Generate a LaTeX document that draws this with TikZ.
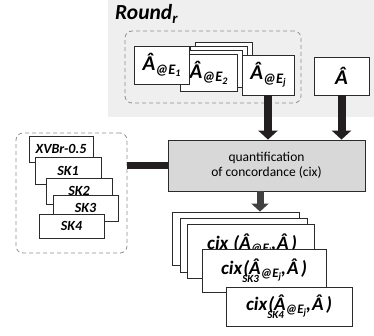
\documentclass[tikz,border=0pt]{standalone}
\usepackage{fontspec}
\setmainfont{Carlito}
\usetikzlibrary{arrows.meta}
\definecolor{bgfill}{HTML}{EFEFEF}
\definecolor{qfill}{HTML}{D8D8D8}
\definecolor{edge}{HTML}{2B2B2B}
\definecolor{dash}{HTML}{8E8E8E}
\definecolor{barc}{HTML}{231F20}
\definecolor{darr}{HTML}{404040}
\newcommand\fs[1]{\fontsize{#1}{#1}\selectfont}
\newcommand\AEbig[1]{{\fs{21pt}Â}\raisebox{-3.5pt}{\fs{14.5pt}@E\raisebox{-2.5pt}{\fs{10pt}#1}}}
\newcommand\AEsm[1]{{\fs{19pt}Â}\raisebox{-3pt}{\fs{13pt}@E\raisebox{-2.5pt}{\fs{9.5pt}#1}}}
\newcommand\cixlab[1]{{\fs{19pt}cix}\rlap{\raisebox{-8pt}{\fs{11pt}#1}}\kern1pt{\fs{19pt}(}\AEsm{j}{\fs{19pt},\kern1pt Â\kern2.5pt)}}
\begin{document}
\begin{tikzpicture}[x=1pt,y=-1pt,
  wbox/.style={draw=edge,fill=white,line width=0.8pt,inner sep=0pt,font=\bfseries\itshape},
  grp/.style={draw=dash,dashed,dash pattern=on 4pt off 3pt,line width=0.8pt,rounded corners=7pt,inner sep=0pt},
  bar/.style={draw=barc,line width=8pt},
  barhead/.style={-{Triangle[width=19pt,length=9pt]}},
  skl/.style={font=\bfseries\itshape\fs{14pt}}]
\useasboundingbox (0,0) rectangle (374,336);
% background of the round
\fill[bgfill] (108,0) rectangle (374,117);
\node[anchor=base west,font=\bfseries\itshape,inner sep=0pt] (title) at (115,20) {{\fs{21.5pt}Round}\raisebox{-3.5pt}{\fs{15pt}r}};
% group of estimates
\node[grp,minimum width=176pt,minimum height=72pt] (eg) at (213,67) {};
\node[wbox,minimum width=57pt,minimum height=37pt] (e2c) at (223.5,60.5) {};
\node[wbox,minimum width=57pt,minimum height=37pt] (e2b) at (218.5,64.5) {};
\node[wbox,minimum width=57pt,minimum height=37pt] (e2a) at (213.5,68.5) {};
\node[wbox,minimum width=57pt,minimum height=37pt] (e2) at (208.5,72.5) {\AEbig{2}};
\node[wbox,minimum width=55pt,minimum height=38pt] (e1) at (161.5,65) {\AEbig{1}};
\node[wbox,minimum width=52pt,minimum height=40pt] (ej) at (268,75) {\AEbig{j}};
\node[wbox,minimum width=55pt,minimum height=38pt] (ah) at (341.5,76) {\fs{21pt}Â};
% quantification box
\node[draw=edge,fill=qfill,line width=0.8pt,minimum width=197pt,minimum height=51pt,align=center,font=\fs{13.5pt},inner sep=0pt] (q) at (266.5,165.5) {quantification\\[1pt]of concordance (cix)};
\draw[bar,barhead] (ej.south) -- (ej.south |- q.north);
\draw[bar,barhead] (ah.south) -- (ah.south |- q.north);
% sketch group
\node[grp,minimum width=111pt,minimum height=120pt] (skg) at (71.5,193) {};
\node[wbox,skl,minimum width=64pt,minimum height=26pt] (xv) at (61,149) {XVBr-0.5};
\node[wbox,skl,minimum width=66pt,minimum height=27pt] (sk1) at (68,170.5) {SK1};
\node[wbox,skl,minimum width=66pt,minimum height=26pt] (sk2) at (79,191) {SK2};
\node[wbox,skl,minimum width=65pt,minimum height=26pt] (sk3) at (85.5,208) {SK3};
\node[wbox,skl,minimum width=65pt,minimum height=24pt] (sk4) at (71.5,226) {SK4};
\draw[barc,line width=7pt] (skg.east |- q.west) -- (q.west);
% result stack
\node[wbox,minimum width=127pt,minimum height=53pt] (ra) at (235.5,238.5) {};
\node[wbox,minimum width=127pt,minimum height=54pt] (rb) at (243.5,245) {};
\node[wbox,minimum width=127pt,minimum height=54pt] (rc) at (250.5,251) {};
\node[anchor=base west,inner sep=0pt,font=\bfseries\itshape] (rct) at (207,249) {{\fs{19pt}cix}\kern5pt{\fs{19pt}(}\AEsm{j}{\fs{19pt},\kern1pt Â\kern2.5pt)}};
\node[wbox,minimum width=124pt,minimum height=43pt] (r3) at (264,270.5) {\cixlab{SK3}};
\node[wbox,minimum width=126pt,minimum height=39pt] (r4) at (289,306.5) {\cixlab{SK4}};
\coordinate (dn) at (260,0);
\draw[darr,line width=7pt,-{Triangle[width=17pt,length=8pt]}] (q.south -| dn) -- (ra.north -| dn);
\end{tikzpicture}
\end{document}
